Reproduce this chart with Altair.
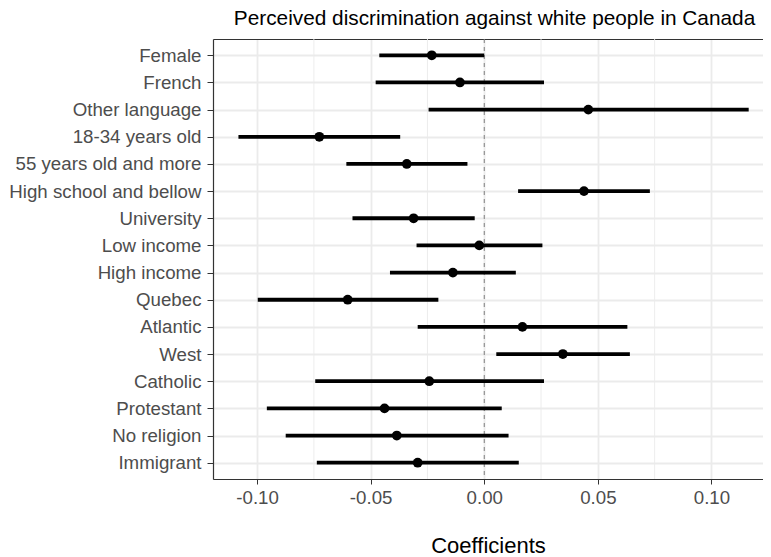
import altair as alt
import pandas as pd

categories = [
    "Female", "French", "Other language", "18-34 years old",
    "55 years old and more", "High school and bellow", "University",
    "Low income", "High income", "Quebec", "Atlantic", "West",
    "Catholic", "Protestant", "No religion", "Immigrant",
]
estimates = [-0.0231, -0.0107, 0.0458, -0.0726, -0.0341, 0.0439, -0.0311,
             -0.0022, -0.0138, -0.0601, 0.0168, 0.0346, -0.0242, -0.0439,
             -0.0385, -0.0293]
lower = [-0.0462, -0.0478, -0.0245, -0.1082, -0.0607, 0.0149, -0.0580,
         -0.0298, -0.0415, -0.0997, -0.0293, 0.0053, -0.0744, -0.0957,
         -0.0874, -0.0737]
upper = [0.0000, 0.0263, 0.1164, -0.0370, -0.0074, 0.0729, -0.0042,
         0.0256, 0.0139, -0.0202, 0.0630, 0.0641, 0.0263, 0.0077,
         0.0107, 0.0152]

major_ticks = [-0.10, -0.05, 0.00, 0.05, 0.10]
minor_ticks = [-0.075, -0.025, 0.025, 0.075]
x_domain = [-0.1194, 0.1227]

df = pd.DataFrame({"term": categories, "estimate": estimates,
                   "lower": lower, "upper": upper})
minor_df = pd.DataFrame({"v": minor_ticks})
zero_df = pd.DataFrame({"v": [0.0]})

FONT = "Liberation Sans"
BORDER = "#333333"

xscale = alt.Scale(domain=x_domain, nice=False, zero=False)
yscale = alt.Scale(type="point", padding=0.6)

x_axis = alt.Axis(
    values=major_ticks, title="Coefficients", grid=True,
    gridColor="#EBEBEB", gridWidth=1.8, domain=True, domainColor=BORDER,
    domainWidth=1.2,
    tickColor=BORDER, tickSize=5, tickWidth=1,
    labelFont=FONT, labelFontSize=18.7, labelColor="#4D4D4D", labelPadding=4,
    labelExpr="replace(format(datum.value, '.2f'), '\u2212', '-')",
    titleFont=FONT, titleFontSize=22, titleFontWeight="normal", titleColor="black",
    titleBaseline="alphabetic", titleY=73,
)
x_top_axis = alt.Axis(
    orient="top", values=major_ticks, title=None, grid=False, labels=False,
    ticks=False, domain=True, domainColor=BORDER, domainWidth=1.2,
)
y_axis = alt.Axis(
    title=None, grid=True, gridColor="#EBEBEB", gridWidth=1.8,
    domain=True, domainColor=BORDER, domainWidth=1.2,
    tickColor=BORDER, tickSize=6, tickWidth=1,
    labelFont=FONT, labelFontSize=18.7, labelColor="#4D4D4D", labelPadding=6,
    labelBaseline="middle", labelLimit=400,
)

minor = alt.Chart(minor_df).mark_rule(color="#EBEBEB", strokeWidth=0.9).encode(
    x=alt.X("v:Q", scale=xscale, axis=x_axis)
)
zero = alt.Chart(zero_df).mark_rule(color="#7F7F7F", strokeWidth=1, strokeDash=[4, 4]).encode(
    x=alt.X("v:Q", scale=xscale, axis=x_top_axis)
)
bars = alt.Chart(df).mark_rule(color="black", strokeWidth=3.8).encode(
    y=alt.Y("term:N", sort=categories, scale=yscale, axis=y_axis),
    x=alt.X("lower:Q", scale=xscale, axis=None),
    x2="upper:Q",
)
pts = alt.Chart(df).mark_point(filled=True, color="black", size=95, opacity=1).encode(
    y=alt.Y("term:N", sort=categories, scale=yscale),
    x=alt.X("estimate:Q", scale=xscale, axis=None),
)

chart = alt.layer(minor, zero, bars, pts).resolve_axis(x="independent").properties(
    width=550, height=440,
    title=alt.TitleParams(
        "Perceived discrimination against white people in Canada",
        font=FONT, fontSize=20.8, fontWeight="normal", color="black",
        anchor="middle", offset=9, dx=6.5,
    ),
    autosize=alt.AutoSizeParams(type="none"),
    padding={"left": 205, "top": 31, "right": 0, "bottom": 78},
).configure_view(stroke=None).configure(background="white")

chart.save("out.html", embed_options={"renderer": "svg", "actions": False})
